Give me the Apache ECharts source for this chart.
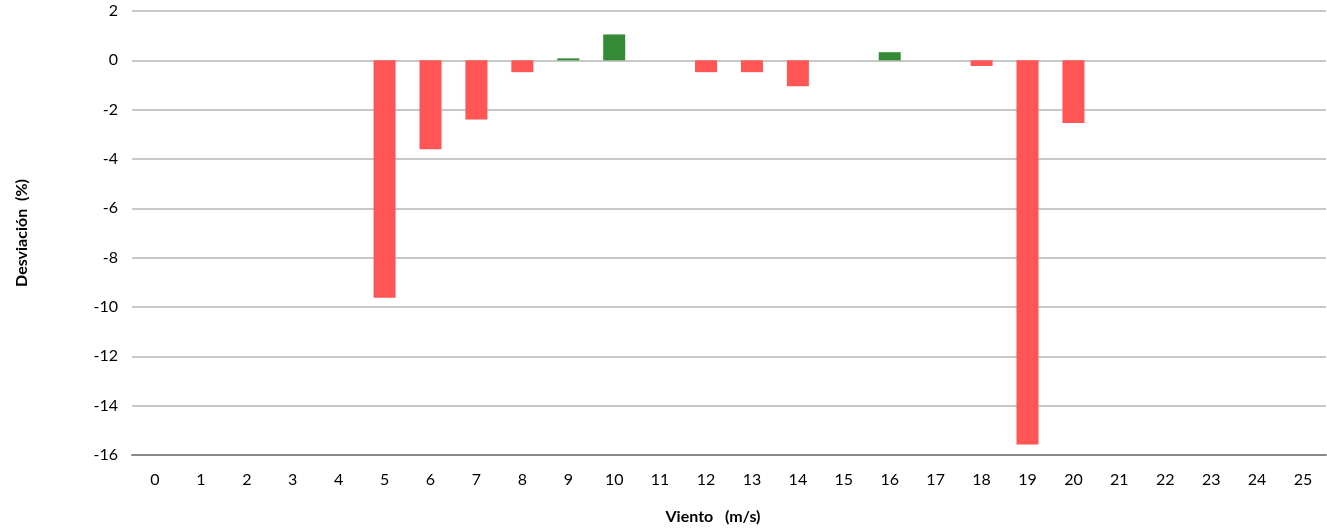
<!DOCTYPE html>
<html>
<head>
<meta charset="utf-8">
<script src="https://cdn.jsdelivr.net/npm/echarts@6/dist/echarts.min.js"></script>
<style>html,body{margin:0;padding:0;background:#fff;}#c{width:1327px;height:530px;}</style>
</head>
<body>
<div id="c"></div>
<script>
const categories = ['0','1','2','3','4','5','6','7','8','9','10','11','12','13','14','15','16','17','18','19','20','21','22','23','24','25'];
const deviation = [null,null,null,null,null,-9.63,-3.6,-2.4,-0.48,0.08,1.05,null,-0.48,-0.48,-1.05,null,0.33,null,-0.23,-15.57,-2.54,null,null,null,null,null];
const yTicks = {min:-16, max:2, interval:2};
const xAxisTitle = 'Viento   (m/s)';
const yAxisTitle = 'Desviación  (%)';

const chart = echarts.init(document.getElementById('c'), null, {renderer:'canvas'});
const font = 'Lato, "Open Sans", sans-serif';
chart.setOption({
  animation:false,
  grid:{left:132, right:1, top:11, bottom:73, containLabel:false},
  xAxis:{
    type:'category', data:categories, boundaryGap:true,
    name:xAxisTitle, nameLocation:'middle', nameGap:54,
    nameTextStyle:{fontFamily:font, fontWeight:'bold', fontSize:16, color:'#000', padding:[0,32,0,0]},
    axisLine:{onZero:false, lineStyle:{color:'#888', width:2}},
    axisTick:{alignWithLabel:true, length:6, lineStyle:{color:'#000', width:2}},
    axisLabel:{fontFamily:font, fontSize:16, color:'#000', margin:17, interval:0},
    splitLine:{show:false}
  },
  yAxis:{
    type:'value', min:yTicks.min, max:yTicks.max, interval:yTicks.interval,
    name:yAxisTitle, nameLocation:'middle', nameGap:102, nameRotate:90,
    nameTextStyle:{fontFamily:font, fontWeight:'bold', fontSize:16, color:'#000'},
    axisLine:{show:false}, axisTick:{show:false},
    axisLabel:{fontFamily:font, fontSize:16, color:'#000', margin:14},
    splitLine:{lineStyle:{color:'#c8c8c8', width:2}}
  },
  series:[{
    type:'bar', data:deviation, barWidth:22,
    itemStyle:{color:p => (p.value >= 0 ? '#368A36' : '#FF5555')}
  }]
});
</script>
</body>
</html>
